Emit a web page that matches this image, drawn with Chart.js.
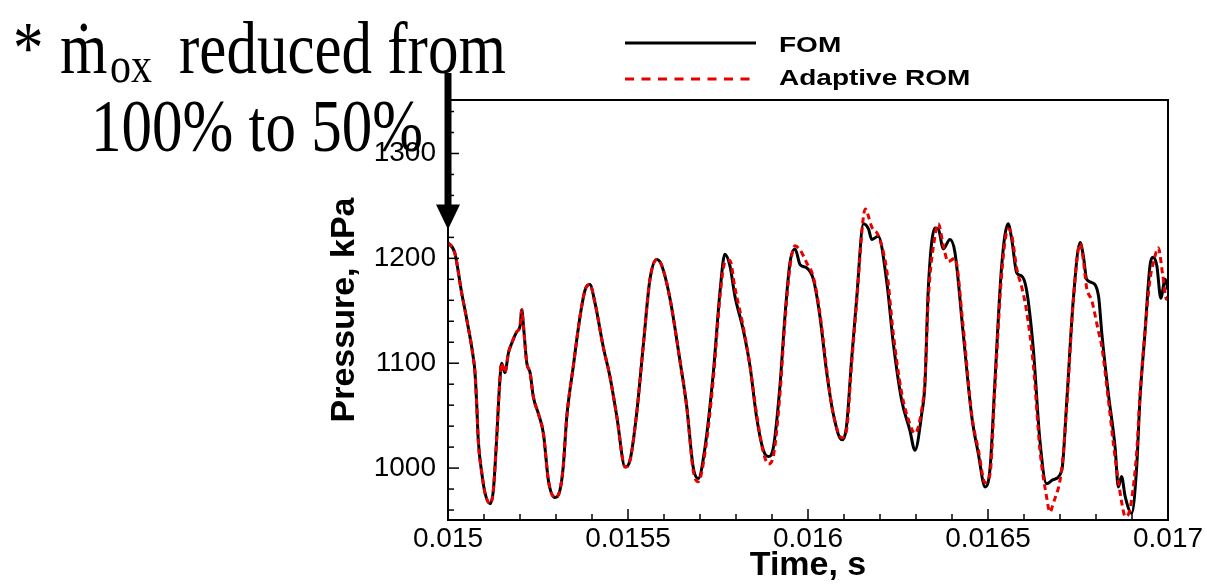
<!DOCTYPE html>
<html>
<head>
<meta charset="utf-8">
<script src="https://cdn.jsdelivr.net/npm/chart.js@4.4.1/dist/chart.umd.min.js"></script>
<style>
  html, body { margin: 0; padding: 0; background: #fff; }
  #wrap { position: relative; width: 1207px; height: 588px; overflow: hidden; }
  #c { position: absolute; left: 0; top: 0; }
  .ann { position: absolute; font-family: 'Liberation Serif', 'Times New Roman', 'DejaVu Serif', serif;
         line-height: 1; transform: scaleY(1.22); transform-origin: 0 0; white-space: pre; color: #000; }
  .leg { position: absolute; font-family: 'Liberation Sans', Arial, sans-serif; font-weight: bold;
         font-size: 28px; line-height: 1; transform: scaleY(0.82); transform-origin: 0 0; white-space: pre; color: #000; }
</style>
</head>
<body>
<div id="wrap">
  <canvas id="c" width="1207" height="588"></canvas>
  <div class="ann" style="left:13px;top:10.7px;font-size:61px;">*</div>
  <div class="ann" style="left:60px;top:10.7px;font-size:61px;">ṁ</div>
  <div class="ann" style="left:110px;top:39px;font-size:42px;">ox</div>
  <div class="ann" style="left:179px;top:10.7px;font-size:61px;">reduced from</div>
  <div class="ann" style="left:91px;top:88.7px;font-size:61px;">100% to 50%</div>
  <svg style="position:absolute;left:0;top:0" width="1207" height="120">
    <line x1="625" y1="43" x2="756" y2="43" stroke="#000" stroke-width="3"/>
    <line x1="625" y1="79" x2="756" y2="79" stroke="#e60000" stroke-width="3" stroke-dasharray="9 7.5"/>
  </svg>
  <div class="leg" style="left:779px;top:32.6px;">FOM</div>
  <div class="leg" style="left:779px;top:65.6px;">Adaptive ROM</div>
</div>
<script>
// ---- data ----
const timeS = [
  0.015000,0.015019,0.015038,0.015052,0.015070,0.015075,0.015080,0.015084,0.015094,0.015103,
  0.015117,0.015126,0.015135,0.015143,0.015149,0.015158,0.015168,0.015177,0.015191,0.015200,
  0.015205,0.015209,0.015219,0.015228,0.015237,0.015251,0.015265,0.015279,0.015297,0.015311,
  0.015320,0.015330,0.015348,0.015367,0.015381,0.015394,0.015408,0.015431,0.015450,0.015469,
  0.015492,0.015506,0.015524,0.015543,0.015561,0.015580,0.015594,0.015617,0.015644,0.015663,
  0.015681,0.015695,0.015714,0.015737,0.015756,0.015769,0.015783,0.015797,0.015820,0.015839,
  0.015857,0.015876,0.015890,0.015904,0.015922,0.015936,0.015950,0.015964,0.015978,0.015996,
  0.016015,0.016033,0.016052,0.016070,0.016094,0.016107,0.016121,0.016135,0.016154,0.016168,
  0.016177,0.016195,0.016219,0.016237,0.016260,0.016283,0.016297,0.016316,0.016325,0.016334,
  0.016353,0.016362,0.016376,0.016394,0.016408,0.016431,0.016455,0.016473,0.016492,0.016506,
  0.016519,0.016538,0.016556,0.016566,0.016580,0.016594,0.016607,0.016626,0.016644,0.016663,
  0.016681,0.016705,0.016719,0.016737,0.016756,0.016765,0.016774,0.016788,0.016807,0.016816,
  0.016834,0.016853,0.016862,0.016871,0.016881,0.016899,0.016913,0.016922,0.016936,0.016950,
  0.016959,0.016969,0.016980,0.016992,0.017000
];
const fomKPa = [
  1215,1205,1167,1142,1106,1091,1059,1027,995,976,
  966,979,1027,1078,1100,1091,1110,1119,1130,1135,
  1151,1138,1100,1091,1068,1052,1033,988,972,979,
  1001,1049,1097,1145,1170,1175,1158,1116,1087,1049,
  1001,1008,1052,1119,1180,1199,1193,1161,1103,1059,
  1001,990,1020,1091,1170,1204,1193,1164,1132,1097,
  1049,1017,1011,1020,1078,1145,1196,1209,1194,1191,
  1180,1145,1091,1052,1027,1040,1103,1161,1233,1228,
  1218,1221,1177,1119,1065,1036,1017,1052,1081,1170,
  1229,1228,1209,1218,1206,1129,1049,1014,982,1001,
  1081,1193,1233,1218,1186,1183,1170,1113,1027,985,
  989,998,1065,1161,1215,1202,1180,1177,1164,1129,
  1072,1020,982,992,973,957,1001,1065,1129,1193,
  1201,1193,1162,1180,1170
];
const romTimeS = [
  0.015000,0.015019,0.015038,0.015052,0.015070,0.015075,0.015080,0.015084,0.015094,0.015103,
  0.015117,0.015126,0.015135,0.015143,0.015149,0.015158,0.015168,0.015177,0.015191,0.015200,
  0.015205,0.015209,0.015219,0.015228,0.015237,0.015251,0.015265,0.015279,0.015297,0.015311,
  0.015320,0.015330,0.015348,0.015367,0.015381,0.015394,0.015408,0.015431,0.015450,0.015469,
  0.015492,0.015506,0.015524,0.015543,0.015561,0.015580,0.015594,0.015617,0.015644,0.015663,
  0.015681,0.015695,0.015714,0.015737,0.015756,0.015769,0.015783,0.015797,0.015820,0.015839,
  0.015857,0.015876,0.015890,0.015904,0.015922,0.015936,0.015950,0.015964,0.015978,0.015996,
  0.016015,0.016033,0.016052,0.016070,0.016094,0.016107,0.016121,0.016135,0.016154,0.016160,
  0.016168,0.016177,0.016195,0.016219,0.016237,0.016260,0.016283,0.016297,0.016316,0.016325,
  0.016334,0.016353,0.016362,0.016376,0.016389,0.016408,0.016431,0.016455,0.016473,0.016492,
  0.016506,0.016519,0.016538,0.016556,0.016566,0.016580,0.016594,0.016607,0.016626,0.016644,
  0.016663,0.016672,0.016681,0.016705,0.016719,0.016737,0.016756,0.016765,0.016774,0.016788,
  0.016807,0.016816,0.016834,0.016853,0.016862,0.016871,0.016881,0.016890,0.016899,0.016913,
  0.016922,0.016936,0.016950,0.016959,0.016973,0.016985,0.016996,0.017000
];
const romKPa = [
  1215,1205,1167,1142,1106,1091,1059,1027,995,976,
  966,979,1027,1078,1100,1091,1110,1119,1130,1135,
  1151,1138,1100,1091,1068,1052,1033,988,972,979,
  1001,1049,1097,1145,1170,1175,1158,1116,1087,1049,
  1001,1008,1052,1119,1180,1199,1193,1161,1103,1059,
  998,987,1015,1085,1165,1196,1198,1172,1135,1097,
  1052,1015,1004,1012,1070,1140,1192,1212,1208,1196,
  1182,1148,1094,1052,1029,1036,1098,1158,1240,1247,
  1240,1230,1222,1188,1128,1072,1042,1033,1056,1085,
  1160,1222,1233,1212,1197,1200,1135,1050,1018,986,
  995,1075,1185,1228,1222,1190,1172,1150,1098,1018,
  972,958,966,1000,1060,1160,1214,1198,1172,1160,
  1130,1116,1066,1010,988,968,954,956,970,1015,
  1068,1130,1180,1195,1210,1185,1161,1165
];
const seriesNames = ['FOM', 'Adaptive ROM'];
const xTickValues = [0.015, 0.0155, 0.016, 0.0165, 0.017];
const xTickLabels = ['0.015', '0.0155', '0.016', '0.0165', '0.017'];
const yTickValues = [1000, 1100, 1200, 1300];
const yTickLabels = ['1000', '1100', '1200', '1300'];
const xMinorStep = 0.0001;
const yMinorStep = 20;

// ---- chart ----
const tickFont = { family: "'Liberation Sans', Arial, sans-serif", size: 28 };
const titleFont = { family: "'Liberation Sans', Arial, sans-serif", size: 34, weight: 'bold' };

const axisPlugin = {
  id: 'axisDecor',
  afterDatasetsDraw(chart) {
    const { ctx, chartArea: a, scales: { x, y } } = chart;
    ctx.save();
    ctx.strokeStyle = '#000';
    ctx.lineWidth = 2;
    ctx.strokeRect(a.left, a.top, a.right - a.left, a.bottom - a.top);
    ctx.lineWidth = 1.5;
    const yStart = Math.ceil(y.min / yMinorStep) * yMinorStep;
    for (let v = yStart; v <= y.max; v += yMinorStep) {
      const py = y.getPixelForValue(v);
      const len = (v % 100 === 0) ? 11 : 6;
      ctx.beginPath(); ctx.moveTo(a.left, py); ctx.lineTo(a.left + len, py); ctx.stroke();
    }
    const nX = Math.round((x.max - x.min) / xMinorStep);
    for (let k = 0; k <= nX; k++) {
      const px = x.getPixelForValue(x.min + k * xMinorStep);
      const len = (k % 5 === 0) ? 11 : 6;
      ctx.beginPath(); ctx.moveTo(px, a.bottom); ctx.lineTo(px, a.bottom - len); ctx.stroke();
    }
    ctx.restore();
  },
  afterDraw(chart) {
    const { ctx, chartArea: a, scales: { x, y } } = chart;
    const px = x.getPixelForValue(timeS[0]);
    const tip = y.getPixelForValue(fomKPa[0]) - 13;
    ctx.save();
    ctx.fillStyle = '#000';
    ctx.fillRect(px - 3.5, a.top - 27, 7, tip - 25 - (a.top - 27) + 1);
    ctx.beginPath();
    ctx.moveTo(px - 12, tip - 25);
    ctx.lineTo(px + 12, tip - 25);
    ctx.lineTo(px, tip);
    ctx.closePath();
    ctx.fill();
    ctx.restore();
  }
};

new Chart(document.getElementById('c'), {
  type: 'line',
  data: {
    datasets: [
      {
        label: seriesNames[0],
        data: timeS.map((t, i) => ({ x: t, y: fomKPa[i] })),
        borderColor: '#000',
        borderWidth: 3,
        pointRadius: 0,
        cubicInterpolationMode: 'monotone',
        fill: false,
        order: 1
      },
      {
        label: seriesNames[1],
        data: romTimeS.map((t, i) => ({ x: t, y: romKPa[i] })),
        borderColor: '#e60000',
        borderWidth: 3,
        borderDash: [6, 4],
        pointRadius: 0,
        cubicInterpolationMode: 'monotone',
        fill: false,
        order: 0
      }
    ]
  },
  options: {
    responsive: false,
    animation: false,
    devicePixelRatio: 1,
    layout: { padding: { left: 324, top: 100, right: 39, bottom: 0 } },
    plugins: { legend: { display: false }, tooltip: { enabled: false } },
    scales: {
      x: {
        type: 'linear',
        min: 0.015,
        max: 0.017,
        afterBuildTicks: s => { s.ticks = xTickValues.map(v => ({ value: v })); },
        afterFit: s => { s.height = 68; },
        ticks: {
          autoSkip: false, maxRotation: 0, padding: 2, color: '#000', font: tickFont,
          callback: v => xTickLabels[xTickValues.indexOf(v)]
        },
        grid: { display: false, drawTicks: false },
        border: { display: false },
        title: { display: true, text: 'Time, s', color: '#000', font: titleFont, padding: { top: 0, bottom: 2.4 } }
      },
      y: {
        type: 'linear',
        min: 950.5,
        max: 1351,
        afterBuildTicks: s => { s.ticks = yTickValues.map(v => ({ value: v })); },
        afterFit: s => { s.width = 124; },
        ticks: {
          autoSkip: false, padding: 12, color: '#000', font: tickFont,
          callback: v => yTickLabels[yTickValues.indexOf(v)]
        },
        grid: { display: false, drawTicks: false },
        border: { display: false },
        title: { display: true, text: 'Pressure, kPa', color: '#000', font: titleFont, padding: { top: 0, bottom: 0 } }
      }
    }
  },
  plugins: [axisPlugin]
});
</script>
</body>
</html>
